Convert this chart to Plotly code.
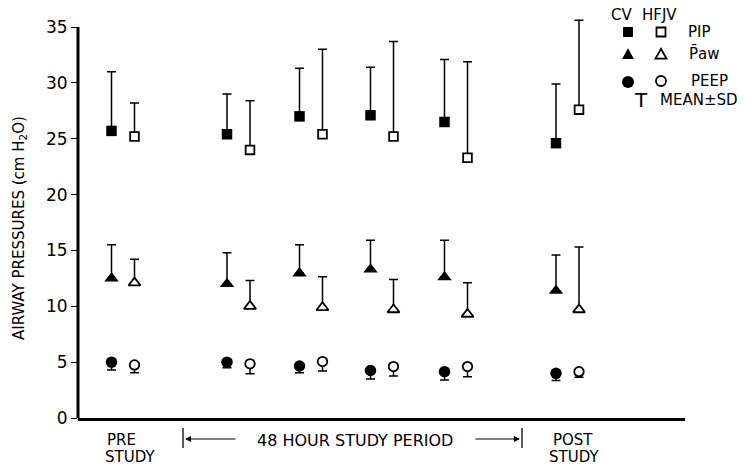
import plotly.graph_objects as go

# ---------------- data ----------------
groups = ["PRE STUDY", "48h-1", "48h-2", "48h-3", "48h-4", "POST STUDY"]
group_x = [45, 160.5, 233, 304, 378, 489.5]   # positions on the time axis
offset = 11.5

pip_cv_mean = [25.7, 25.4, 27.0, 27.1, 26.5, 24.6]
pip_cv_top = [31.0, 29.0, 31.3, 31.4, 32.1, 29.9]
pip_hf_mean = [25.2, 24.0, 25.4, 25.2, 23.3, 27.6]
pip_hf_top = [28.2, 28.4, 33.0, 33.7, 31.9, 35.6]

paw_cv_mean = [12.5, 12.0, 12.95, 13.3, 12.6, 11.4]
paw_cv_top = [15.5, 14.8, 15.5, 15.9, 15.9, 14.6]
paw_hf_mean = [12.1, 10.0, 9.9, 9.7, 9.3, 9.7]
paw_hf_top = [14.2, 12.3, 12.65, 12.4, 12.1, 15.3]

peep_cv_mean = [5.0, 5.0, 4.65, 4.25, 4.15, 4.0]
peep_cv_bot = [4.3, 4.5, 4.05, 3.5, 3.4, 3.35]
peep_hf_mean = [4.75, 4.85, 5.05, 4.6, 4.6, 4.15]
peep_hf_bot = [4.05, 3.95, 4.2, 3.75, 3.7, 3.65]

y_ticks = [0, 5, 10, 15, 20, 25, 30, 35]
y_axis_top = 35

FONT = "DejaVu Sans"
L, R, T, B = 78, 71, 14, 51
W, H = 756, 469
PW, PH = W - L - R, H - T - B
Y_MAX = y_axis_top * PH / 391.0   # keeps 35 at the same height, leaves room for caps


def px(x):
    return (x - L) / PW


def py(y):
    return (H - B - y) / PH


cv_x = [g - offset for g in group_x]
hf_x = [g + offset for g in group_x]

fig = go.Figure()


def add(xs, means, lim, symbol, size, filled, up=True):
    diffs = [abs(l - m) for l, m in zip(lim, means)]
    zeros = [0] * len(means)
    fig.add_trace(go.Scatter(
        x=xs, y=means, mode="markers", cliponaxis=False,
        marker=dict(symbol=symbol, size=size,
                    color="black" if filled else "white",
                    line=dict(color="black", width=0 if filled else 1.8)),
        error_y=dict(type="data", symmetric=False,
                     array=diffs if up else zeros,
                     arrayminus=zeros if up else diffs,
                     color="black", thickness=1.5, width=4.5),
        showlegend=False, hoverinfo="skip"))


add(cv_x, pip_cv_mean, pip_cv_top, "square", 10.5, True)
add(hf_x, pip_hf_mean, pip_hf_top, "square", 8.7, False)
add(cv_x, paw_cv_mean, paw_cv_top, "triangle-up", 12.5, True)
add(hf_x, paw_hf_mean, paw_hf_top, "triangle-up", 10.5, False)
add(cv_x, peep_cv_mean, peep_cv_bot, "circle", 11.5, True, up=False)
add(hf_x, peep_hf_mean, peep_hf_bot, "circle", 9.5, False, up=False)

annotations = []
shapes = []

# y axis line from 0 to 35
shapes.append(dict(type="line", xref="paper", yref="y", x0=0, x1=0,
                   y0=-0.15, y1=y_axis_top, line=dict(color="black", width=3)))


def text(t, x, y, size=15, xanchor="center", **kw):
    annotations.append(dict(text=t, xref="paper", yref="paper", x=px(x), y=py(y),
                            xanchor=xanchor, yanchor="middle", showarrow=False,
                            font=dict(family=FONT, size=size, color="black"), **kw))


# y-axis title
text("AIRWAY PRESSURES (cm H<sub>2</sub>O)", 19, 228, size=15, textangle=-90)

# bottom labels
text("PRE", 105, 440, xanchor="left")
text("STUDY", 103, 457, xanchor="left")
text("POST", 551, 440, xanchor="left")
text("STUDY", 547, 457, xanchor="left")
text("48 HOUR STUDY PERIOD", 355, 440, size=16)
for xb in (183, 522):
    shapes.append(dict(type="line", xref="paper", yref="paper", x0=px(xb), x1=px(xb),
                       y0=py(428), y1=py(448), line=dict(color="black", width=1.3)))
annotations.append(dict(text="", xref="paper", yref="paper", x=px(185), y=py(439),
                        ax=52, ay=0, showarrow=True, arrowhead=2, arrowsize=1,
                        arrowwidth=1.2, arrowcolor="black"))
annotations.append(dict(text="", xref="paper", yref="paper", x=px(520), y=py(439),
                        ax=-46, ay=0, showarrow=True, arrowhead=2, arrowsize=1,
                        arrowwidth=1.2, arrowcolor="black"))

# legend
text("CV", 621, 15)
text("HFJV", 659, 15)
text("PIP", 686, 32, xanchor="left")
text("P\u0304aw", 687, 54, xanchor="left")
text("PEEP", 689, 81, xanchor="left")
text("MEAN\u00b1SD", 658, 100, xanchor="left")
text("T", 641, 100, size=20)


def glyph(kind, cx, cy, filled, s):
    base = dict(xref="paper", yref="paper", xsizemode="pixel", ysizemode="pixel",
                xanchor=px(cx), yanchor=py(cy),
                fillcolor="black" if filled else "white",
                line=dict(color="black", width=0 if filled else 1.8))
    h = s / 2
    if kind == "rect":
        base.update(type="rect", x0=-h, x1=h, y0=-h, y1=h)
    elif kind == "circle":
        base.update(type="circle", x0=-h, x1=h, y0=-h, y1=h)
    else:
        base.update(type="path", path=f"M {-h} {-h*0.85} L {h} {-h*0.85} L 0 {h*0.95} Z")
    shapes.append(base)


glyph("rect", 628, 32, True, 10)
glyph("rect", 661, 32, False, 9)
glyph("tri", 628, 54, True, 12)
glyph("tri", 661, 54, False, 11)
glyph("circle", 628, 82, True, 12)
glyph("circle", 661, 81, False, 10)

fig.update_layout(
    width=W, height=H,
    margin=dict(l=L, r=R, t=T, b=B),
    plot_bgcolor="white", paper_bgcolor="white",
    font=dict(family=FONT, color="black"),
    annotations=annotations, shapes=shapes,
    xaxis=dict(range=[0, PW], showgrid=False, zeroline=False, showticklabels=False,
               ticks="", showline=True, linecolor="black", linewidth=3),
    yaxis=dict(range=[0, Y_MAX], tickvals=y_ticks, showgrid=False, zeroline=False,
               ticks="outside", ticklen=6, tickwidth=1, tickcolor="black",
               showline=False,
               tickfont=dict(family=FONT, size=17, color="black")),
)

fig.write_html("out.html", config={"displayModeBar": False},
               post_script="document.body.style.margin='0px';")
